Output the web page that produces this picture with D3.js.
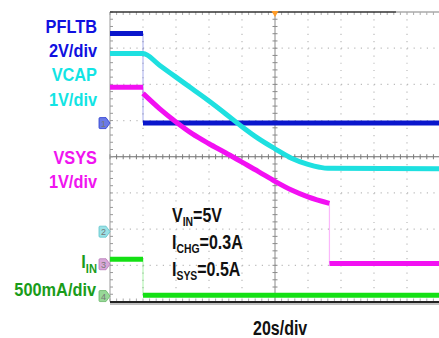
<!DOCTYPE html>
<html>
<head>
<meta charset="utf-8">
<script src="https://cdn.jsdelivr.net/npm/d3@7"></script>
<style>
  html, body { margin: 0; padding: 0; background: #fff; }
  svg { display: block; }
  text { font-family: "Liberation Sans", Arial, sans-serif; font-weight: bold; }
</style>
</head>
<body>
<div id="scope"></div>
<script>
// time in seconds (20 s/div, 10 div), values in channel units
const pfltb = [[0, 4.95], [20, 4.95], [20, 0], [200, 0]];
const vcap = [[0, 4.92], [20, 4.92], [30, 4.6], [40, 4.27], [50, 3.94], [60, 3.61], [70, 3.26],
  [80, 2.9], [90, 2.57], [100, 2.29], [110, 2.03], [120, 1.86], [127, 1.78], [132, 1.75], [200, 1.74]];
const vsys = [[0, 4.89], [20, 4.89], [20, 4.72], [30, 4.3], [40, 3.93], [50, 3.6], [60, 3.33],
  [70, 3.08], [80, 2.82], [90, 2.56], [100, 2.29], [110, 2.05], [120, 1.86], [133, 1.68],
  [133, 0.02], [200, 0.02]];
const iin = [[0, 0.51], [20, 0.51], [20, 0.01], [200, 0.01]];

const chNames = ['PFLTB', 'VCAP', 'VSYS', 'I'];
const chScales = ['2V/div', '1V/div', '1V/div', '500mA/div'];
const perDiv = [2, 1, 1, 0.5];
const notes = [['V', 'IN', '=5V'], ['I', 'CHG', '=0.3A'], ['I', 'SYS', '=0.5A']];
const timeLabel = '20s/div';

const W = 439, H = 338;
const L = 110, R = 440, T = 12, B = 301.5;

const x = d3.scaleLinear().domain([0, 200]).range([L, R]);
const y = d3.scaleLinear().domain([-4, 4]).range([B, T]);

// channel setup: ground offset (div), colours
const channels = [
  { data: pfltb, zero: 0.93, trace: '#0a16cc', text: '#1010e0', mark: '#6a7ae6', markStroke: '#2a3ad0' },
  { data: vcap, zero: -2.07, trace: '#1ee0e0', text: '#12e4e4', mark: '#9ae2e6', markStroke: '#5cc4cc' },
  { data: vsys, zero: -2.97, trace: '#f210f2', text: '#f014f0', mark: '#d8a8d8', markStroke: '#b878b8' },
  { data: iin, zero: -3.85, trace: '#14e014', text: '#1a9c1a', mark: '#98d898', markStroke: '#68b868' }
];
channels.forEach((c, i) => { c.perDiv = perDiv[i]; });

const svg = d3.select('#scope').append('svg').attr('width', W).attr('height', H);

svg.append('defs').append('clipPath').attr('id', 'plot-clip')
  .append('rect').attr('x', L).attr('y', T - 3).attr('width', R - L).attr('height', B - T + 3);

const grid = svg.append('g');
const divW = (R - L) / 10, divH = (B - T) / 8;

// dotted grid
d3.range(1, 10).filter((k) => k !== 5).forEach((k) => {
  grid.append('line')
    .attr('x1', x(k * 20)).attr('x2', x(k * 20)).attr('y1', T).attr('y2', B)
    .attr('stroke', '#bbb').attr('stroke-width', 1.2)
    .attr('stroke-dasharray', `1.2 ${divH / 5 - 1.2}`);
});
d3.range(-3, 4).filter((k) => k !== 0).forEach((k) => {
  grid.append('line')
    .attr('x1', L).attr('x2', R).attr('y1', y(k)).attr('y2', y(k))
    .attr('stroke', '#bbb').attr('stroke-width', 1.2)
    .attr('stroke-dasharray', `1.2 ${divW / 5 - 1.2}`);
});

// centre axes with minor ticks
grid.append('line').attr('x1', x(100)).attr('x2', x(100)).attr('y1', T).attr('y2', B)
  .attr('stroke', '#8a8a8a').attr('stroke-width', 1);
grid.append('line').attr('x1', L).attr('x2', R).attr('y1', y(0)).attr('y2', y(0))
  .attr('stroke', '#6a6a6a').attr('stroke-width', 1);
d3.range(0, 41).forEach((i) => {
  const yy = T + i * divH / 5;
  grid.append('line').attr('x1', x(100) - 2.5).attr('x2', x(100) + 2.5).attr('y1', yy).attr('y2', yy)
    .attr('stroke', '#8a8a8a');
  grid.append('line').attr('x1', L).attr('x2', L + 3).attr('y1', yy).attr('y2', yy)
    .attr('stroke', '#999');
});
d3.range(0, 51).forEach((i) => {
  const xx = L + i * divW / 5;
  grid.append('line').attr('x1', xx).attr('x2', xx).attr('y1', y(0) - 2.5).attr('y2', y(0) + 2.5)
    .attr('stroke', '#7a7a7a');
  grid.append('line').attr('x1', xx).attr('x2', xx).attr('y1', T).attr('y2', T + 3)
    .attr('stroke', '#aaa');
  grid.append('line').attr('x1', xx).attr('x2', xx).attr('y1', B - 3).attr('y2', B)
    .attr('stroke', '#aaa');
});

// borders
grid.append('line').attr('x1', L).attr('x2', L).attr('y1', T).attr('y2', B).attr('stroke', '#999');
grid.append('line').attr('x1', L).attr('x2', 396).attr('y1', T).attr('y2', T)
  .attr('stroke', '#333').attr('stroke-width', 1.4);
grid.append('line').attr('x1', 396).attr('x2', R).attr('y1', T).attr('y2', T)
  .attr('stroke', '#aaa').attr('stroke-width', 1.4);
grid.append('line').attr('x1', L).attr('x2', R).attr('y1', B + 0.5).attr('y2', B + 0.5)
  .attr('stroke', '#222').attr('stroke-width', 2);
grid.append('line').attr('x1', L).attr('x2', R).attr('y1', B + 2.5).attr('y2', B + 2.5)
  .attr('stroke', '#aaa').attr('stroke-width', 1.5);

// trigger position marker
svg.append('path').attr('d', d3.symbol(d3.symbolTriangle, 22)())
  .attr('transform', `translate(${x(100)},${T + 1}) rotate(180)`).attr('fill', '#ff9c28');

// traces
const traces = svg.append('g').attr('clip-path', 'url(#plot-clip)');
channels.forEach((c) => {
  const py = (v) => y(c.zero + v / c.perDiv);
  // split into runs at vertical steps
  const runs = [[c.data[0]]];
  for (let i = 1; i < c.data.length; i++) {
    const p = c.data[i], q = c.data[i - 1];
    if (p[0] === q[0]) {
      traces.append('line')
        .attr('x1', x(p[0])).attr('x2', x(p[0])).attr('y1', py(q[1])).attr('y2', py(p[1]))
        .attr('stroke', c.trace).attr('stroke-opacity', 0.3).attr('stroke-width', 1.2);
      runs.push([p]);
    } else {
      runs[runs.length - 1].push(p);
    }
  }
  const line = d3.line().x((d) => x(d[0])).y((d) => py(d[1])).curve(d3.curveMonotoneX);
  runs.forEach((r) => {
    traces.append('path').attr('d', line(r))
      .attr('fill', 'none').attr('stroke', c.trace).attr('stroke-width', 5);
  });
});

// channel ground markers
channels.forEach((c, i) => {
  const gy = y(c.zero);
  const m = svg.append('g').attr('transform', `translate(${L},${gy})`);
  m.append('path').attr('d', 'M-10,-5.5 L-4,-5.5 L0,0 L-4,5.5 L-10,5.5 Q-11,5.5 -11,4.5 L-11,-4.5 Q-11,-5.5 -10,-5.5 Z')
    .attr('fill', c.mark).attr('stroke', c.markStroke).attr('stroke-width', 0.8);
  m.append('text').attr('x', -6.5).attr('y', 3.5).attr('text-anchor', 'middle')
    .attr('font-size', 9).attr('fill', '#777').style('font-weight', 'normal').text(i + 1);
});

// scaled text helper
function label(parent, tx, ty, anchor, sx, size, color) {
  return parent.append('g').attr('transform', `translate(${tx},${ty}) scale(${sx},1)`)
    .append('text').attr('text-anchor', anchor).attr('font-size', size).attr('fill', color);
}

const labelY = [[33, 57], [81, 106], [164, 187.5], [268, 296]];
channels.forEach((c, i) => {
  const t1 = label(svg, 97, labelY[i][0], 'end', 0.86, 19, c.text);
  if (i === 3) {
    t1.append('tspan').text(chNames[i]);
    t1.append('tspan').attr('font-size', 13).attr('dy', 5).text('IN');
  } else {
    t1.text(chNames[i]);
  }
  label(svg, i === 3 ? 96 : 97, labelY[i][1], 'end', 0.86, 19, c.text).text(chScales[i]);
});

// condition notes
const noteY = [222, 249, 276];
notes.forEach((n, i) => {
  const t = label(svg, 172, noteY[i], 'start', 0.8, 20, '#111');
  t.append('tspan').text(n[0]);
  t.append('tspan').attr('font-size', 13).attr('dy', 4).text(n[1]);
  t.append('tspan').attr('dy', -4).text(n[2]);
});

label(svg, 253, 334.5, 'start', 0.8, 20, '#111').text(timeLabel);
</script>
</body>
</html>
